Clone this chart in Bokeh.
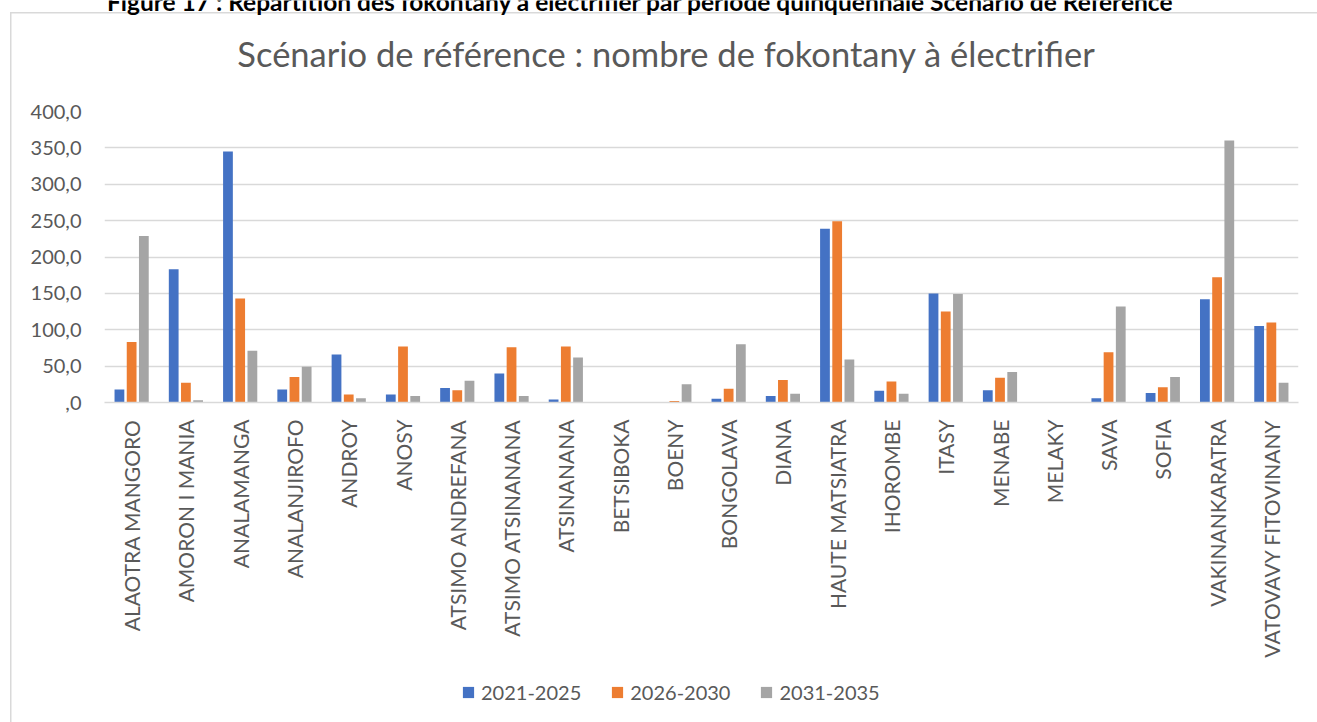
import math
from bokeh.plotting import figure
from bokeh.layouts import column
from bokeh.models import (FactorRange, Range1d, FixedTicker, CustomJSTickFormatter,
                          Legend, LegendItem, Label, ColumnDataSource)
from bokeh.transform import dodge
from bokeh.embed import file_html
from bokeh.resources import INLINE

regions = ["ALAOTRA MANGORO", "AMORON I MANIA", "ANALAMANGA", "ANALANJIROFO", "ANDROY",
           "ANOSY", "ATSIMO ANDREFANA", "ATSIMO ATSINANANA", "ATSINANANA", "BETSIBOKA",
           "BOENY", "BONGOLAVA", "DIANA", "HAUTE MATSIATRA", "IHOROMBE", "ITASY",
           "MENABE", "MELAKY", "SAVA", "SOFIA", "VAKINANKARATRA", "VATOVAVY FITOVINANY"]
s2021_2025 = [18, 183, 345, 18, 66, 11, 20, 40, 4, 0, 0, 5, 9, 239, 16, 150, 17, 0, 6, 13, 142, 105]
s2026_2030 = [83, 27, 143, 35, 11, 77, 17, 76, 77, 0, 2, 19, 31, 249, 29, 125, 34, 0, 69, 21, 172, 110]
s2031_2035 = [229, 3, 71, 49, 6, 9, 30, 9, 62, 0, 25, 80, 12, 59, 12, 149, 42, 0, 132, 35, 360, 27]
series = ["2021-2025", "2026-2030", "2031-2035"]
colors = ["#4472C4", "#ED7D31", "#A5A5A5"]
y_ticks = [0, 50, 100, 150, 200, 250, 300, 350, 400]

title_text = "Scénario de référence : nombre de fokontany à électrifier"
caption_text = "Figure 17 : Répartition des fokontany à électrifier par période quinquennale Scénario de Référence"

W = 1317
HEAD_H = 91

# ---------- header (caption + chart title) ----------
head = figure(width=W, height=HEAD_H, x_range=Range1d(0, 1), y_range=Range1d(0, 1),
              x_axis_type=None, y_axis_type=None, output_backend="svg", toolbar_location=None,
              min_border=0)
head.grid.visible = False
head.outline_line_color = None
head.background_fill_alpha = 0
head.border_fill_alpha = 0
head.add_layout(Label(x=562, y=38, x_units="screen", y_units="screen", text=title_text,
                      text_align="center", text_baseline="alphabetic", text_font="Lato",
                      text_font_size="34.5px", text_color="#595959"))
head.add_layout(Label(x=536, y=90, x_units="screen", y_units="screen", text=caption_text,
                      text_align="center", text_baseline="alphabetic", text_font="Lato",
                      text_font_size="24.5px", text_font_style="bold", text_color="black"))

# ---------- main chart ----------
src = ColumnDataSource(dict(region=regions, a=s2021_2025, b=s2026_2030, c=s2031_2035))

p = figure(width=W, height=579, x_range=FactorRange(*regions), y_range=Range1d(0, 400),
           output_backend="svg", toolbar_location=None,
           min_border_left=104, min_border_right=19, min_border_top=20, min_border_bottom=268)
p.outline_line_color = None
p.background_fill_alpha = 0
p.border_fill_alpha = 0

for key, off, col in zip(["a", "b", "c"], [-0.225, 0.0, 0.225], colors):
    p.vbar(x=dodge("region", off, range=p.x_range), top=key, width=0.18, source=src,
           fill_color=col, line_color=None)

p.yaxis.ticker = FixedTicker(ticks=y_ticks)
p.yaxis.formatter = CustomJSTickFormatter(code="return tick === 0 ? ',0' : tick.toFixed(1).replace('.', ',');")
p.yaxis.axis_line_color = None
p.yaxis.major_tick_line_color = None
p.yaxis.minor_tick_line_color = None
p.yaxis.major_tick_out = 0
p.yaxis.major_tick_in = 0
p.yaxis.major_label_standoff = 23
p.yaxis.major_label_text_font = "Lato"
p.yaxis.major_label_text_font_size = "20px"
p.yaxis.major_label_text_color = "#595959"

p.xaxis.axis_line_color = "#d9d9d9"
p.xaxis.axis_line_width = 1.5
p.xaxis.major_tick_line_color = None
p.xaxis.minor_tick_line_color = None
p.xaxis.major_tick_out = 0
p.xaxis.major_tick_in = 0
p.xaxis.major_label_standoff = 17
p.xaxis.major_label_orientation = math.pi / 2
p.xaxis.major_label_text_font = "Lato"
p.xaxis.major_label_text_font_size = "21px"
p.xaxis.major_label_text_color = "#595959"

p.xgrid.grid_line_color = None
p.ygrid.ticker = FixedTicker(ticks=y_ticks)
p.ygrid.grid_line_color = "#d9d9d9"
p.ygrid.grid_line_width = 1.5

# ---------- legend strip ----------
leg = figure(width=W, height=52, x_range=Range1d(0, 1), y_range=Range1d(0, 1),
             x_axis_type=None, y_axis_type=None, output_backend="svg", toolbar_location=None,
             min_border=0)
leg.grid.visible = False
leg.outline_line_color = None
leg.background_fill_alpha = 0
leg.border_fill_alpha = 0
# zero-height swatch renderers, only used to draw the legend keys
swatches = [leg.vbar(x=[0.5], top=[0], width=0.01, fill_color=c, line_color=None) for c in colors]
legend = Legend(items=[LegendItem(label=s, renderers=[r]) for s, r in zip(series, swatches)],
                orientation="horizontal", location=(357, 18),
                glyph_width=14, glyph_height=14, label_standoff=6, spacing=29,
                padding=0, margin=0, border_line_color=None, background_fill_alpha=0,
                label_text_font="Lato", label_text_font_size="20px", label_text_color="#595959")
leg.add_layout(legend)

page_styles = {
    "background-color": "white",
    "background-image": "linear-gradient(#d9d9d9,#d9d9d9), linear-gradient(#d9d9d9,#d9d9d9)",
    "background-size": "1307px 1.5px, 1.5px 710px",
    "background-position": "10px 12px, 10px 12px",
    "background-repeat": "no-repeat",
}
page = column(head, p, leg, spacing=0, styles=page_styles)

open("out.html", "w").write(file_html(page, INLINE))
